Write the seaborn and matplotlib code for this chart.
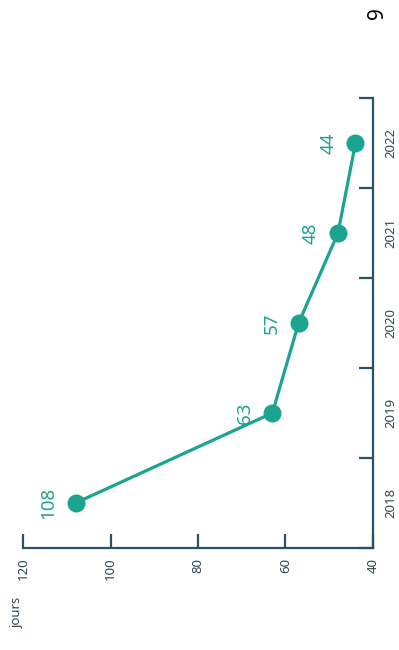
import matplotlib
matplotlib.use("Agg")
import matplotlib.pyplot as plt
import seaborn as sns
import pandas as pd
from matplotlib.ticker import FixedLocator

years = ["2018", "2019", "2020", "2021", "2022"]
days = [108, 63, 57, 48, 44]
value_ticks = [40, 60, 80, 100, 120]
unit_label = "jours"
page_number = "9"

TEAL = "#1ba48f"
AXIS = "#2c5064"
TEXT = "#2f4655"

sns.set_theme(style="white")
plt.rcParams["font.family"] = ["Noto Sans", "DejaVu Sans"]

df = pd.DataFrame({"year": years, "pos": range(len(years)), "days": days})

fig = plt.figure(figsize=(3.99, 6.5), dpi=100)
ax = fig.add_axes([23 / 399, (650 - 548) / 650, (373 - 23) / 399, (548 - 98) / 650])

sns.lineplot(data=df, x="days", y="pos", orient="y", sort=False, ax=ax,
             color=TEAL, linewidth=2.3, marker="o", markersize=13,
             markeredgewidth=0, markerfacecolor=TEAL)

for i, v in enumerate(days):
    ax.annotate(str(v), (v, i), xytext=(-27, 0), textcoords="offset pixels",
                rotation=90, ha="center", va="center", color=TEAL, fontsize=13.5)

ax.set_xlim(120, 40)
ax.set_ylim(-0.5, len(years) - 0.5)

for s in ["top", "left"]:
    ax.spines[s].set_visible(False)
for s in ["bottom", "right"]:
    ax.spines[s].set_color(AXIS)
    ax.spines[s].set_linewidth(1.6)

ax.set_xticks(value_ticks)
ax.set_xticklabels([str(t) for t in value_ticks], rotation=90, color=TEXT, fontsize=9.5)
ax.tick_params(axis="x", direction="in", length=10, width=1.6, color=AXIS, pad=7,
               bottom=True)

ax.yaxis.tick_right()
ax.set_yticks(range(len(years)))
ax.set_yticklabels(years, rotation=90, va="center", color=TEXT, fontsize=9.5)
ax.yaxis.set_minor_locator(FixedLocator([i - 0.5 for i in range(len(years) + 1)]))
ax.tick_params(axis="y", which="major", length=0, pad=8, right=True, left=False)
ax.tick_params(axis="y", which="minor", direction="in", length=10, width=1.6,
               color=AXIS, right=True, left=False)
ax.set_xlabel("")
ax.set_ylabel("")
ax.grid(False)

fig.text(17 / 399, (650 - 612) / 650, unit_label, rotation=90, ha="center", va="center",
         color=TEXT, fontsize=9.5)
fig.text(378 / 399, (650 - 13) / 650, page_number, rotation=90, ha="center", va="center",
         color="black", fontsize=15)

fig.savefig("out.png", dpi=100)
